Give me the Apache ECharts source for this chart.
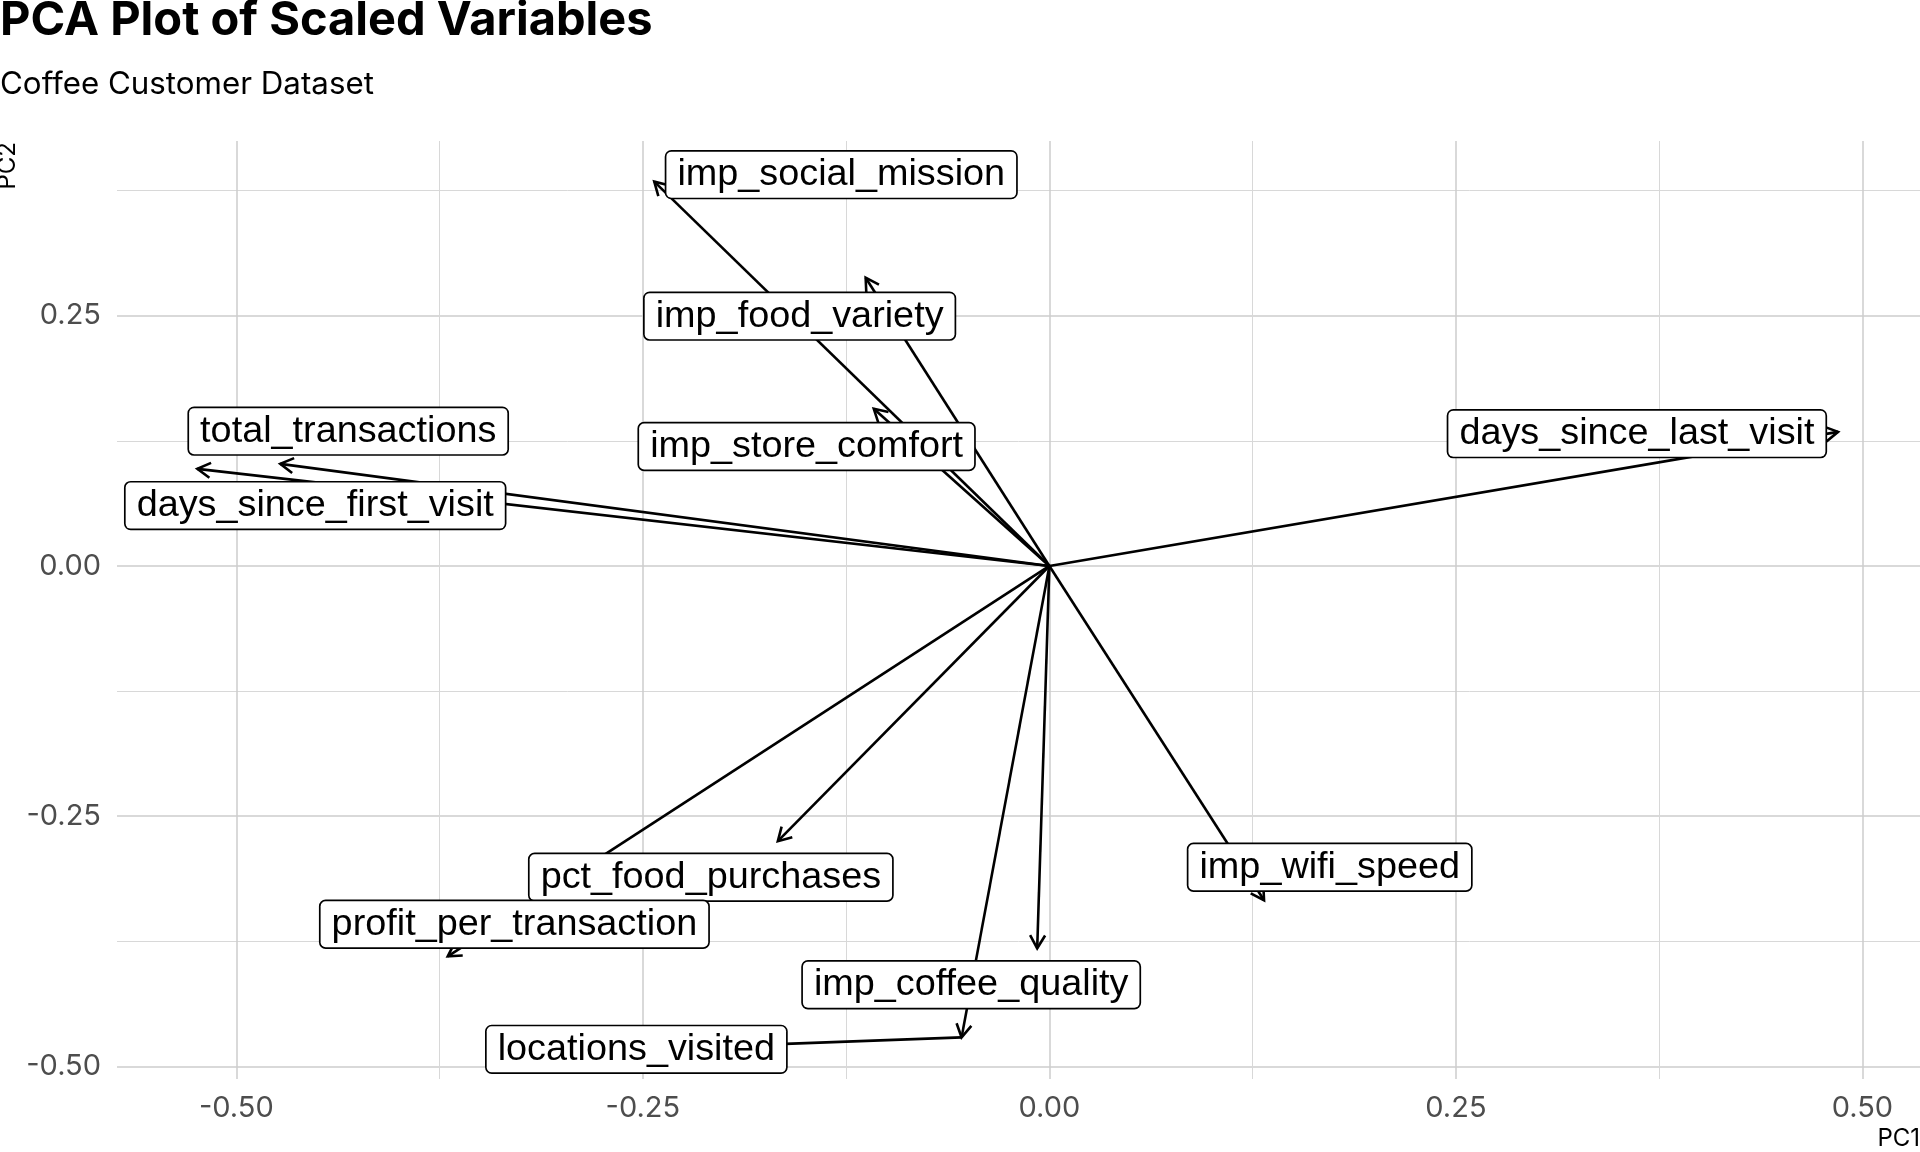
<!DOCTYPE html>
<html>
<head>
<meta charset="utf-8">
<script src="https://cdn.jsdelivr.net/npm/echarts@6/dist/echarts.min.js"></script>
<style>
html,body{margin:0;padding:0;background:#ffffff;}
#chart{width:1920px;height:1152px;}
</style>
</head>
<body>
<div id="chart"></div>
<script>
// ---- data (PCA loadings) ----
const variables = ['imp_social_mission','imp_food_variety','imp_store_comfort','total_transactions','days_since_first_visit','days_since_last_visit','imp_wifi_speed','pct_food_purchases','profit_per_transaction','imp_coffee_quality','locations_visited'];
const pc1 = [-0.243, -0.113, -0.108, -0.473, -0.524, 0.485, 0.132, -0.167, -0.370, -0.0075, -0.054];
const pc2 = [0.384, 0.288, 0.157, 0.102, 0.097, 0.134, -0.334, -0.275, -0.390, -0.382, -0.471];
// repelled label anchor positions (data units)
const labelX = [-0.128, -0.1536, -0.1493, -0.4312, -0.4515, 0.3613, 0.1724, -0.2082, -0.329, -0.0481, -0.254];
const labelY = [0.391, 0.2496, 0.1194, 0.1347, 0.0603, 0.1322, -0.301, -0.311, -0.358, -0.4185, -0.483];
const leaderShown = [false, false, false, false, false, false, false, false, false, false, true];
// axes
const xRange = [-0.5734, 0.5354];
const yRange = [-0.5126, 0.4246];
const xMajorTicks = [-0.5, -0.25, 0, 0.25, 0.5];
const xMinorTicks = [-0.375, -0.125, 0.125, 0.375];
const yMajorTicks = [-0.5, -0.25, 0, 0.25];
const yMinorTicks = [-0.375, -0.125, 0.125, 0.375];

const arrowData = variables.map((v, i) => [pc1[i], pc2[i], labelX[i], labelY[i], leaderShown[i] ? 1 : 0]);
const labelData = variables.map((v, i) => [labelX[i], labelY[i]]);

const chart = echarts.init(document.getElementById('chart'), null, { renderer: 'canvas' });

const tickFont = { fontFamily: 'Inter', fontSize: 29, color: '#4d4d4d' };
function fmt(v) { return Number(v).toFixed(2); }

function axisBase(range) {
  return {
    type: 'value', min: range[0], max: range[1],
    axisLine: { show: false }
  };
}

const option = {
  backgroundColor: '#ffffff',
  animation: false,
  title: [
    { text: 'PCA Plot of Scaled Variables', left: 0, top: -3, padding: 0,
      textStyle: { fontFamily: 'Inter', fontWeight: 'bold', fontSize: 47, color: '#000000' } },
    { text: 'Coffee Customer Dataset', left: 0, top: 69, padding: 0,
      textStyle: { fontFamily: 'Inter', fontWeight: 'normal', fontSize: 31.3, color: '#000000' } }
  ],
  grid: { left: 117, right: 0, top: 141, bottom: 73, containLabel: false, outerBoundsMode: 'none' },
  xAxis: [
    Object.assign(axisBase(xRange), {
      position: 'bottom',
      axisTick: { show: false, customValues: xMajorTicks },
      axisLabel: Object.assign({ customValues: xMajorTicks, formatter: fmt, margin: 15 }, tickFont),
      splitLine: { show: true, lineStyle: { color: '#cdcdcd', width: 1.5 } }
    }),
    Object.assign(axisBase(xRange), {
      position: 'bottom',
      axisTick: { show: false, customValues: xMinorTicks },
      axisLabel: { show: false },
      splitLine: { show: true, lineStyle: { color: '#d8d8d8', width: 1 } }
    })
  ],
  yAxis: [
    Object.assign(axisBase(yRange), {
      position: 'left',
      axisTick: { show: false, customValues: yMajorTicks },
      axisLabel: Object.assign({ customValues: yMajorTicks, formatter: fmt, margin: 16 }, tickFont),
      splitLine: { show: true, lineStyle: { color: '#cdcdcd', width: 1.5 } }
    }),
    Object.assign(axisBase(yRange), {
      position: 'left',
      axisTick: { show: false, customValues: yMinorTicks },
      axisLabel: { show: false },
      splitLine: { show: true, lineStyle: { color: '#d8d8d8', width: 1 } }
    })
  ],
  graphic: [
    { type: 'text', x: 1920, y: 1139, z: 10,
      style: { text: 'PC1', align: 'right', verticalAlign: 'middle', fill: '#000000',
               font: '24px Inter' } },
    { type: 'text', x: 8, y: 142, rotation: Math.PI / 2, z: 10,
      style: { text: 'PC2', align: 'right', verticalAlign: 'middle', fill: '#000000',
               font: '24px Inter' } }
  ],
  series: [
    {
      type: 'custom',
      xAxisIndex: 0, yAxisIndex: 0,
      z: 1,
      silent: true,
      data: arrowData,
      encode: { x: 0, y: 1 },
      renderItem: function (params, api) {
        const o = api.coord([0, 0]);
        const p = api.coord([api.value(0), api.value(1)]);
        const ang = Math.atan2(p[1] - o[1], p[0] - o[0]);
        const L = 15, a = Math.PI / 6;
        const h1 = [p[0] - L * Math.cos(ang - a), p[1] - L * Math.sin(ang - a)];
        const h2 = [p[0] - L * Math.cos(ang + a), p[1] - L * Math.sin(ang + a)];
        const style = { stroke: '#000000', lineWidth: 2.6, fill: null, lineCap: 'butt', lineJoin: 'miter' };
        const children = [
          { type: 'line', shape: { x1: o[0], y1: o[1], x2: p[0], y2: p[1] }, style: style },
          { type: 'polyline', shape: { points: [h1, p, h2] }, style: style }
        ];
        if (api.value(4) === 1) {
          const q = api.coord([api.value(2), api.value(3)]);
          children.push({ type: 'line', shape: { x1: p[0], y1: p[1], x2: q[0], y2: q[1] }, style: style });
        }
        return { type: 'group', children: children };
      }
    },
    {
      type: 'custom',
      xAxisIndex: 0, yAxisIndex: 0,
      z: 10,
      silent: true,
      data: labelData,
      encode: { x: 0, y: 1 },
      renderItem: function (params, api) {
        const c = api.coord([api.value(0), api.value(1)]);
        return {
          type: 'text',
          x: c[0], y: c[1],
          style: {
            text: variables[params.dataIndex],
            font: '37.8px "Liberation Sans", Arial, sans-serif',
            fill: '#000000',
            align: 'center',
            verticalAlign: 'middle',
            lineHeight: 38,
            backgroundColor: '#ffffff',
            borderColor: '#000000',
            borderWidth: 1.7,
            borderRadius: 5,
            padding: [8, 11, 0, 11]
          }
        };
      }
    }
  ]
};
chart.setOption(option);
</script>
</body>
</html>
